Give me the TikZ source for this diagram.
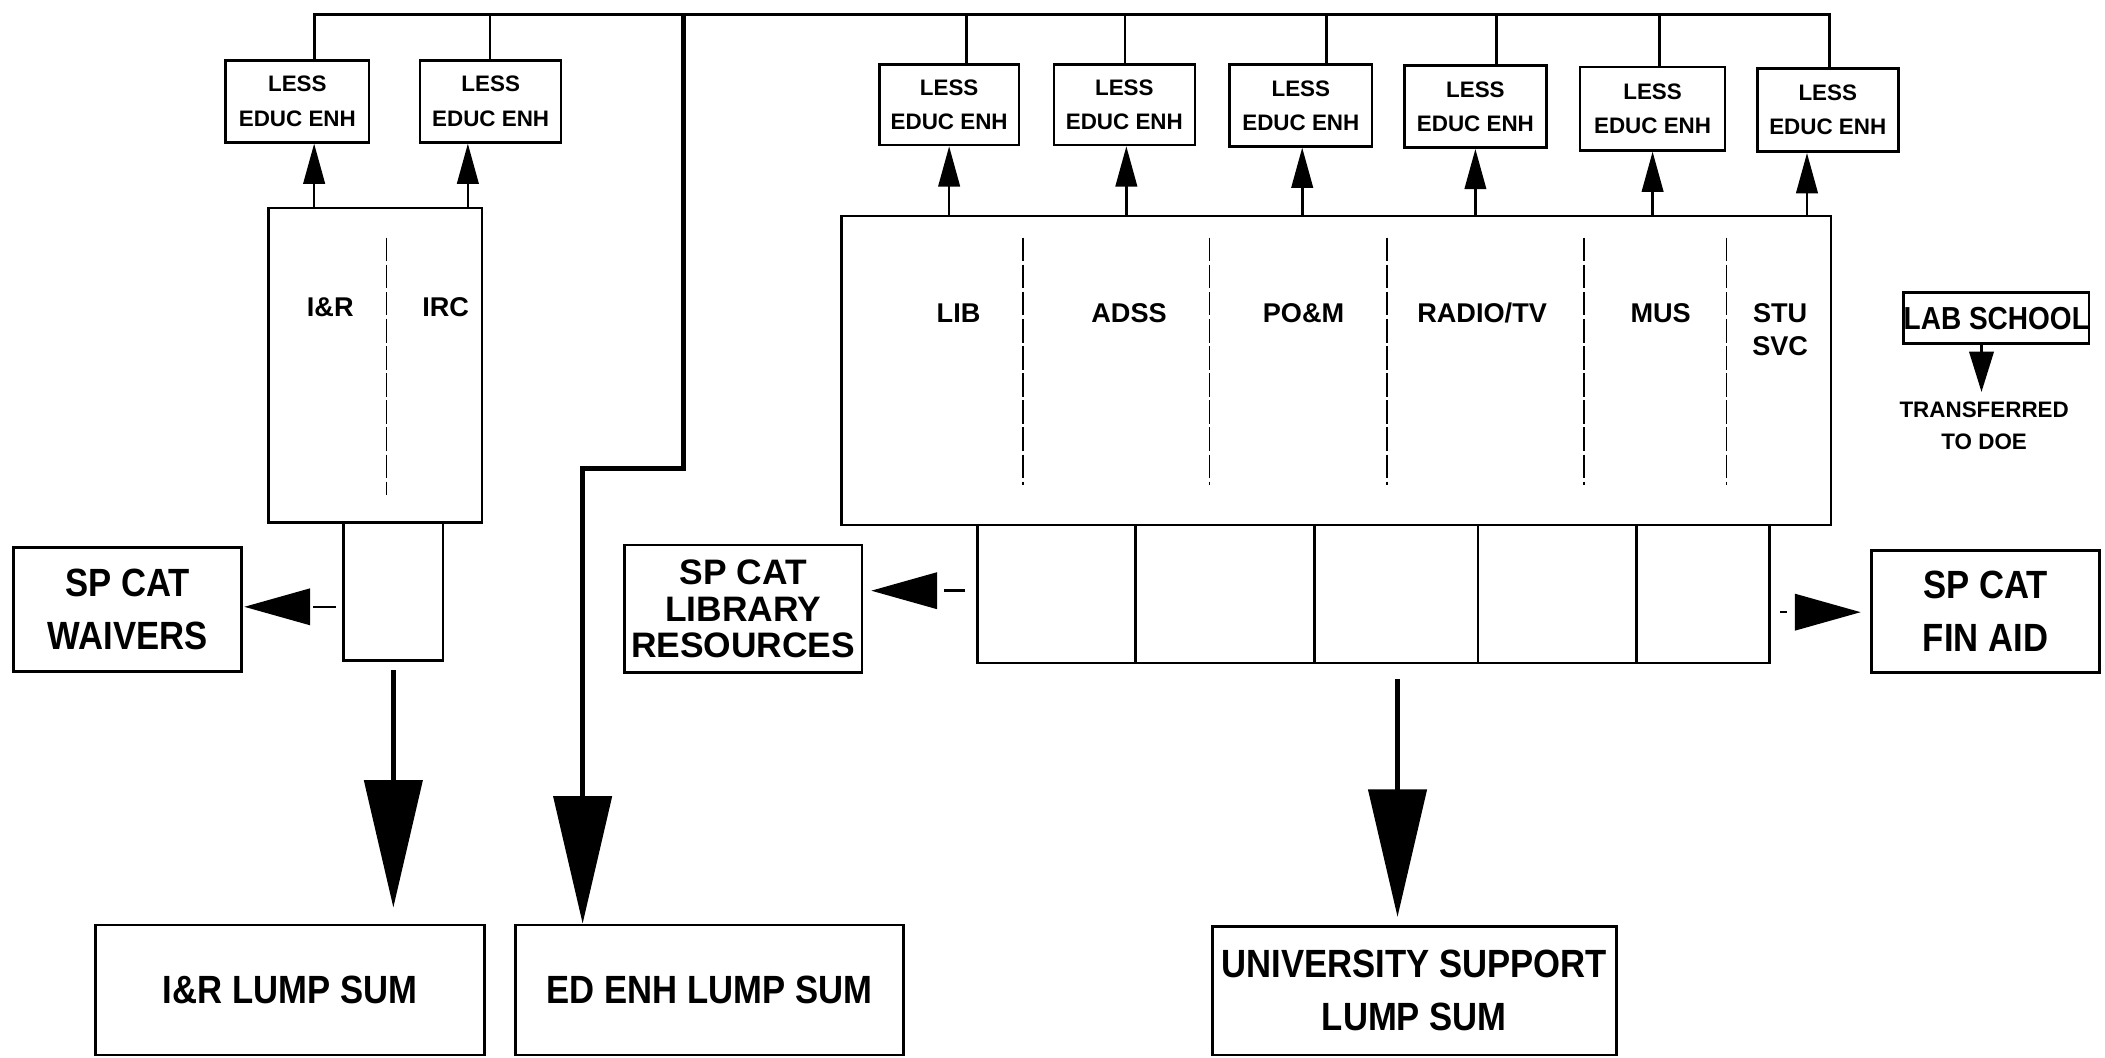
\documentclass[tikz,border=0pt]{standalone}
\usepackage{fontspec}
\setmainfont{Liberation Sans}
\newfontfamily\condf[FakeStretch=0.88]{Liberation Sans}
\usetikzlibrary{arrows.meta}
\begin{document}
\begin{tikzpicture}[x=0.02cm,y=-0.02cm,
 box/.style={draw, line width=1.1pt, inner sep=0pt, align=center},
 sz/.style 2 args={minimum width=#1*0.02cm, minimum height=#2*0.02cm},
 lessbox/.style={box, font=\bfseries\fontsize{9.5}{14.5}\selectfont},
 bigtxt/.style={font=\condf\bfseries\fontsize{16.7}{22.5}\selectfont},
 libtxt/.style={font=\bfseries\fontsize{15}{15.4}\selectfont},
 lbl/.style={inner sep=0pt, font=\bfseries\fontsize{11.5}{14}\selectfont, align=center},
 smalltxt/.style={inner sep=0pt, font=\bfseries\fontsize{9.5}{13.5}\selectfont, align=center},
 tap/.style={line width=1.2pt},
 uparr/.style={line width=1.1pt, -{Triangle[length=0.6cm,width=0.32cm]}},
 bigarr/.style={line width=2.2pt, -{Triangle[length=1.9cm,width=0.86cm]}},
 sidearr/.style={line width=1.1pt, -{Triangle[length=0.98cm,width=0.54cm]}},
 labarr/.style={line width=1.3pt, -{Triangle[length=0.6cm,width=0.36cm]}},
 divd/.style={line width=0.6pt, dash pattern=on 10pt off 1.5pt},
 divs/.style={line width=1.1pt},
]
\useasboundingbox (0,0) rectangle (1568,788);

% ---- left group
\node[lessbox, sz={107}{61}] (lessA) at (221.5,75.5) {LESS\\EDUC ENH};
\node[lessbox, sz={105}{61}] (lessB) at (365.5,75.5) {LESS\\EDUC ENH};
\node[box, sz={159}{234}] (irbox) at (279.5,272) {};
\node[lbl] (lIR) at (246,229) {I\&R};
\node[lbl] (lIRC) at (332,229) {IRC};
\draw[divd] (288,177) -- (288,369);
\node[box, sz={74}{103}] (irsmall) at (293,440.5) {};
\node[box, bigtxt, sz={170}{92}] (waivers) at (95,454) {SP CAT\\WAIVERS};
\node[box, bigtxt, sz={290}{97}] (irlump) at (216,737.5) {I\&R LUMP SUM};
\node[box, bigtxt, sz={289}{97}] (edlump) at (528.5,737.5) {ED ENH LUMP SUM};

% ---- right group
\node[lessbox, sz={104}{60}] (r1) at (707,78) {LESS\\EDUC ENH};
\node[lessbox, sz={105}{60}] (r2) at (837.5,78) {LESS\\EDUC ENH};
\node[lessbox, sz={106}{61}] (r3) at (969,78.5) {LESS\\EDUC ENH};
\node[lessbox, sz={106}{61}] (r4) at (1099,79.5) {LESS\\EDUC ENH};
\node[lessbox, sz={108}{62}] (r5) at (1231,81) {LESS\\EDUC ENH};
\node[lessbox, sz={105}{62}] (r6) at (1361.5,82) {LESS\\EDUC ENH};
\node[box, sz={737}{230}] (bigR) at (995.5,276) {};
\node[lbl] (lLIB) at (714,233) {LIB};
\node[lbl] (lADSS) at (841,233) {ADSS};
\node[lbl] (lPOM) at (971,233) {PO\&M};
\node[lbl] (lRTV) at (1104,233) {RADIO/TV};
\node[lbl] (lMUS) at (1237,233) {MUS};
\node[lbl, anchor=north] (lSTU) at (1326,226) {STU\\SVC};
\foreach \xx in {762,901,1033,1180,1286} \draw[divd] (\xx,177) -- (\xx,361);
\node[box, sz={590}{103}] (strip) at (1023,442.5) {};
\foreach \xx in {846,979,1101,1219} \draw[divs] (\xx,391) -- (\xx,494);
\node[box, libtxt, sz={177}{95}] (libres) at (553.5,453.5) {SP CAT\\LIBRARY\\RESOURCES};
\node[box, bigtxt, sz={170}{91}] (finaid) at (1479,455.5) {SP CAT\\FIN AID};
\node[box, bigtxt, sz={301}{96}] (univ) at (1053.5,738) {UNIVERSITY SUPPORT\\LUMP SUM};
\node[box, font=\condf\bfseries\fontsize{13.5}{16}\selectfont, sz={138}{38}] (lab) at (1487,237) {LAB SCHOOL};
\node[smalltxt, anchor=north] (trans) at (1478,299) {TRANSFERRED\\TO DOE};

% ---- bus and taps
\coordinate (bL) at (234,11);
\coordinate (bR) at (1363,11);
\draw[tap] (bL |- lessA.north) -- (bL) -- (bR) -- (bR |- r6.north);
\foreach \nm/\xx in {lessB/365, r1/720, r2/838, r3/988, r4/1115, r5/1236} {
  \coordinate (tp) at (\xx,11);
  \draw[tap] (tp) -- (tp |- \nm.north);
}

% ---- trunk to ED ENH
\coordinate (t0) at (509,11);
\coordinate (t1) at (434,349);
\draw[bigarr] (t0) |- (t1) -- (t1 |- edlump.north);

% ---- up arrows
\foreach \nm/\src/\xx in {lessA/irbox/234, lessB/irbox/348.5, r1/bigR/707, r2/bigR/839, r3/bigR/970, r4/bigR/1099, r5/bigR/1231, r6/bigR/1346} {
  \coordinate (ua) at (\xx,0);
  \draw[uparr] (ua |- \src.north) -- (ua |- \nm.south);
}

% ---- big down arrows
\coordinate (dI) at (293,0);
\draw[bigarr, shorten <=0.12cm, shorten >=0.24cm] (dI |- irsmall.south) -- (dI |- irlump.north);
\coordinate (dU) at (1041,0);
\draw[bigarr, shorten <=0.22cm, shorten >=0.12cm] (dU |- strip.south) -- (dU |- univ.north);

% ---- side arrows
\coordinate (sW) at (0,452);
\draw[sidearr, dash pattern=on 0.34cm off 0.3cm, shorten <=0.1cm, shorten >=0.02cm] (sW -| irsmall.west) -- (sW -| waivers.east);
\coordinate (sL) at (0,440);
\draw[sidearr, dash pattern=on 0.32cm off 0.3cm, shorten <=0.16cm, shorten >=0.12cm] (sL -| strip.west) -- (sL -| libres.east);
\coordinate (sF) at (0,456);
\draw[sidearr, dash pattern=on 0.1cm off 0.3cm, shorten <=0.14cm, shorten >=0.14cm] (sF -| strip.east) -- (sF -| finaid.west);

% ---- lab school
\coordinate (lA) at (1476,0);
\draw[labarr, shorten >=0.14cm] (lA |- lab.south) -- (lA |- trans.north);
\end{tikzpicture}
\end{document}
